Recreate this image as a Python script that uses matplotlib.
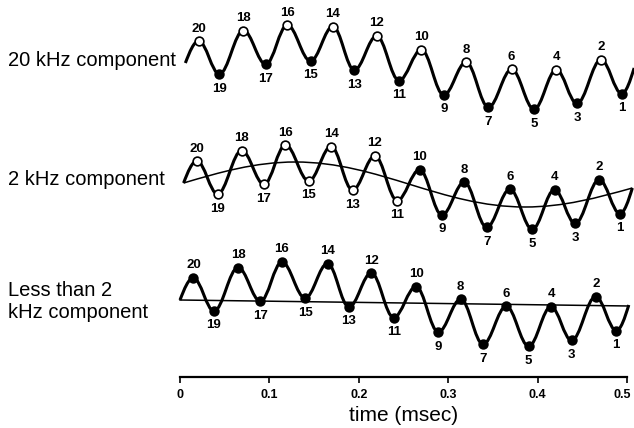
import matplotlib
matplotlib.use("Agg")
import matplotlib.pyplot as plt
from matplotlib.path import Path
from matplotlib.patches import PathPatch
from matplotlib.transforms import offset_copy

plt.rcParams["font.family"] = ["Liberation Sans", "DejaVu Sans"]

# composite waveform, extrema in time order (numbered 20 down to 1)
point_labels = [20, 19, 18, 17, 16, 15, 14, 13, 12, 11, 10, 9, 8, 7, 6, 5, 4, 3, 2, 1]
times = [0.019, 0.042, 0.069, 0.094, 0.118, 0.144, 0.169, 0.193, 0.218, 0.243,
         0.268, 0.293, 0.318, 0.343, 0.369, 0.394, 0.419, 0.442, 0.469, 0.492]
values = [22.0, -11.0, 32.5, -1.3, 38.0, 2.0, 36.5, -7.0, 27.0, -17.5,
          13.3, -32.0, 0.8, -44.2, -6.3, -46.2, -6.7, -40.4, 3.4, -30.5]
wave_start = (0.004, 0.0)
wave_end = (0.506, -5.0)

# 2 kHz component: start, max, min, end
comp2_t = [0.004, 0.129, 0.386, 0.506]
comp2_v = [0.0, 21.0, -24.0, -5.0]

# less than 2 kHz component
low_t = [0.004, 0.506]
low_v = [0.0, -6.0]

tick_vals = [0, 0.1, 0.2, 0.3, 0.4, 0.5]
tick_labels = ["0", "0.1", "0.2", "0.3", "0.4", "0.5"]


def smooth_path(ts, vs, kinds, shift, base):
    # cubic bezier pieces: 'x' = extremum (flat), 'z' = crossing
    verts = [(ts[0] + shift, vs[0] + base)]
    codes = [Path.MOVETO]
    for i in range(len(ts) - 1):
        ta, va, ka = ts[i] + shift, vs[i] + base, kinds[i]
        tb, vb, kb = ts[i + 1] + shift, vs[i + 1] + base, kinds[i + 1]
        dt = tb - ta
        if ka == "x" and kb == "x":
            c1 = (ta + 0.364 * dt, va)
            c2 = (tb - 0.364 * dt, vb)
        elif ka == "z":
            c1 = (ta + 0.326 * dt, va + 0.512 * (vb - va))
            c2 = (ta + 0.640 * dt, vb)
        else:
            c1 = (ta + 0.360 * dt, va)
            c2 = (ta + 0.674 * dt, vb + 0.512 * (va - vb))
        verts += [c1, c2, (tb, vb)]
        codes += [Path.CURVE4] * 3
    return Path(verts, codes)


W, H = 634, 428
fig = plt.figure(figsize=(W / 100, H / 100), dpi=100)
axis_y = 377
ax = fig.add_axes([180 / W, (H - axis_y) / H, 447 / W, axis_y / H])
ax.set_xlim(0, 0.5)
ax.set_ylim(0, axis_y)

wt = [wave_start[0]] + times + [wave_end[0]]
wv = [wave_start[1]] + values + [wave_end[1]]
wk = ["z"] + ["x"] * len(times) + ["z"]

panels = [
    # name, baseline, time shift, label y
    ("20 kHz component", axis_y - 63, 0.002, 60),
    ("2 kHz component", axis_y - 183, 0.0, 180),
    ("Less than 2", axis_y - 300, -0.004, 290),
]

for p, (name, base, shift, ly) in enumerate(panels):
    ax.add_patch(PathPatch(smooth_path(wt, wv, wk, shift, base), fc="none",
                           ec="black", lw=2.2, clip_on=False, zorder=3))
    if p == 1:
        ax.add_patch(PathPatch(smooth_path(comp2_t, comp2_v, ["z", "x", "x", "z"], shift, base),
                               fc="none", ec="black", lw=1.1, clip_on=False, zorder=2))
    if p == 2:
        ax.plot([t + shift for t in low_t], [v + base for v in low_v], color="black",
                lw=1.1, clip_on=False, zorder=2)

    for n, t, v in zip(point_labels, times, values):
        if p == 0:
            hollow = n % 2 == 0
        elif p == 1:
            hollow = n > 10
        else:
            hollow = False
        ax.plot(t + shift, v + base, "o", ms=6.3, mec="black", mew=1.2,
                mfc="white" if hollow else "black", clip_on=False, zorder=4)
        dy = 12.5 if n % 2 == 0 else -14.5
        ax.annotate(str(n), (t + shift, v + base), xytext=(0, dy), textcoords="offset pixels",
                    ha="center", va="center", fontsize=9.5, fontweight="bold")

    fig.text(8 / W, 1 - ly / H, name, fontsize=14.5, ha="left", va="center")

fig.text(8 / W, 1 - 312 / H, "kHz component", fontsize=14.5, ha="left", va="center")

for s in ["left", "right", "top"]:
    ax.spines[s].set_visible(False)
ax.spines["bottom"].set_linewidth(1.6)
ax.set_yticks([])
ax.set_xticks(tick_vals)
ax.set_xticklabels(tick_labels, fontsize=9, fontweight="bold")
ax.tick_params(axis="x", direction="out", length=4, width=1.2, pad=5)
ax.set_xlabel("time (msec)", fontsize=15, labelpad=3)

# keep the last tick label inside the picture edge
fig.canvas.draw()
last = ax.get_xticklabels()[-1]
last.set_transform(offset_copy(last.get_transform(), fig=fig, x=-5, units="dots"))

fig.savefig("out.png", dpi=100)
